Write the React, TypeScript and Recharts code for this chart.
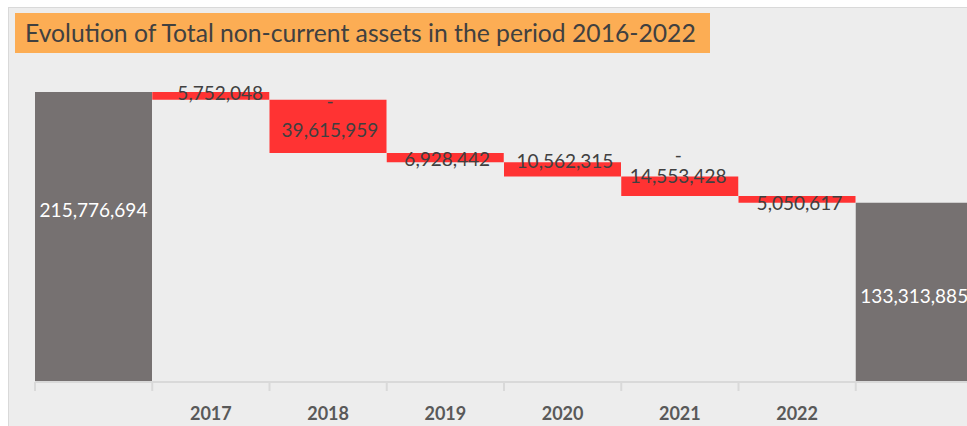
import React from "react";
import { BarChart, Bar, XAxis, YAxis, Cell, LabelList } from "recharts";

const categories = ["Start", "2017", "2018", "2019", "2020", "2021", "2022", "End"];
const tickLabels = ["", "2017", "2018", "2019", "2020", "2021", "2022", ""];
const startValue = 215776694;
const yearlyDecreases = [5752048, 39615959, 6928442, 10562315, 14553428, 5050617];
const endValue = 133313885;
const labelPrefix = ["", "", "-", "", "", "-", "", ""];

const title = "Evolution of Total non-current assets in the period 2016-2022";

// styling
const CHART_W = 974;
const CHART_H = 426;
const MARGIN = { top: 46, right: 1, bottom: 4, left: 35 };
const BAND = (CHART_W - MARGIN.left - MARGIN.right) / categories.length;
const GREY = "#767171";
const RED = "#ff3333";
const FONT = "Lato, 'Noto Sans', sans-serif";
// label nudges (relative to bar centre), purely visual
const labelDy = [-27, -2.5, 3.5, 2, -8, -10, 4, 3.5];
const labelDx = [0, 9.5, 2, 2, 2.5, -1.5, 2.5, 0];
const prefixDy = [0, 0, -29, 0, 0, -21, 0, 0];

type Row = { name: string; base: number; delta: number; total: boolean };

function buildRows(): Row[] {
  const rows: Row[] = [{ name: categories[0], base: 0, delta: startValue, total: true }];
  let running = startValue;
  yearlyDecreases.forEach((d, i) => {
    running -= d;
    rows.push({ name: categories[i + 1], base: running, delta: d, total: false });
  });
  rows.push({ name: categories[categories.length - 1], base: 0, delta: endValue, total: true });
  return rows;
}

const data = buildRows();

const renderLabel = (props: any) => {
  const { x, y, width, height, index } = props;
  const row = data[index];
  const cx = Number(x) + Number(width) / 2 + labelDx[index];
  const cy = Number(y) + Number(height) / 2 + labelDy[index];
  const fs = 19;
  const txt = row.delta.toLocaleString("en-US");
  return (
    <g>
      {labelPrefix[index] ? (
        <text
          x={cx}
          y={cy + prefixDy[index] + fs * 0.36}
          textAnchor="middle"
          fontFamily={FONT}
          fontSize={fs}
          fill="#404040"
        >
          {labelPrefix[index]}
        </text>
      ) : null}
      <text
        x={cx}
        y={cy + fs * 0.36}
        textAnchor="middle"
        fontFamily={FONT}
        fontSize={fs}
        fill={row.total ? "#ffffff" : "#404040"}
      >
        {txt}
      </text>
    </g>
  );
};

const renderTick = (props: any) => {
  const { x, y, index } = props;
  return (
    <g>
      <line x1={x - BAND / 2} x2={x - BAND / 2} y1={y} y2={y + 9} stroke="#d9d9d9" strokeWidth={2} />
      <text
        x={x}
        y={y + 38}
        textAnchor="middle"
        fontFamily={FONT}
        fontWeight={700}
        fontSize={18}
        fill="#595959"
      >
        {tickLabels[index]}
      </text>
    </g>
  );
};

export default function App() {
  return (
    <div
      style={{
        position: "absolute",
        left: 0,
        top: 0,
        width: 967,
        height: 426,
        overflow: "hidden",
        background: "#ffffff",
      }}
    >
      <div
        style={{
          position: "absolute",
          left: 8,
          top: 7,
          width: 1000,
          height: 500,
          background: "#ededed",
          border: "1px solid #d9d9d9",
          boxSizing: "border-box",
        }}
      />
      <div
        style={{
          position: "absolute",
          left: 15,
          top: 13,
          width: 695,
          height: 40,
          background: "#fcad54",
          fontFamily: FONT,
          fontSize: 24.7,
          color: "#404040",
          lineHeight: "40px",
          paddingLeft: 10,
          boxSizing: "border-box",
          whiteSpace: "nowrap",
        }}
      >
        {title}
      </div>
      <div style={{ position: "absolute", left: 0, top: 0 }}>
        <BarChart
          width={CHART_W}
          height={CHART_H}
          data={data}
          margin={MARGIN}
          barCategoryGap={0}
          barGap={0}
        >
          <YAxis hide domain={[0, 250000000]} />
          <XAxis
            dataKey="name"
            height={40}
            tickLine={false}
            tickSize={0}
            tickMargin={0}
            axisLine={{ stroke: "#d9d9d9", strokeWidth: 2 }}
            tick={renderTick}
            interval={0}
          />
          <Bar dataKey="base" stackId="w" fill="transparent" isAnimationActive={false} />
          <Bar dataKey="delta" stackId="w" isAnimationActive={false}>
            {data.map((r, i) => (
              <Cell key={i} fill={r.total ? GREY : RED} />
            ))}
            <LabelList dataKey="delta" content={renderLabel} />
          </Bar>
        </BarChart>
      </div>
    </div>
  );
}
